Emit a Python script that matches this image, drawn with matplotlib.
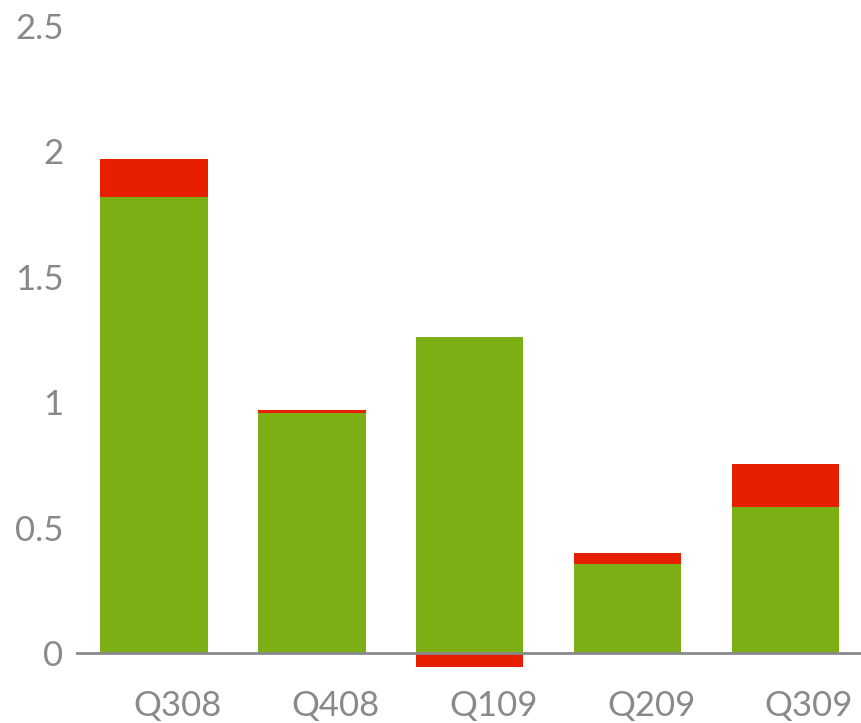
import matplotlib
matplotlib.use("Agg")
import matplotlib.pyplot as plt
import matplotlib.transforms as mtransforms
import numpy as np

quarters = ["Q308", "Q408", "Q109", "Q209", "Q309"]
green_vals = [1.819, 0.958, 1.261, 0.357, 0.584]
red_vals = [0.151, 0.012, -0.054, 0.043, 0.171]
yticks = [0, 0.5, 1, 1.5, 2, 2.5]
ytick_labels = ["0", "0.5", "1", "1.5", "2", "2.5"]

GREEN = "#7BAF14"
RED = "#E81E00"
GREY = "#898989"

plt.rcParams["font.family"] = ["Lato", "DejaVu Sans"]

fig = plt.figure(figsize=(8.61, 7.23), dpi=100)
ax = fig.add_axes([76 / 861, 43 / 723, 785 / 861, 654 / 723])

x = np.arange(len(quarters))
green = np.array(green_vals)
red = np.array(red_vals)
red_bottom = np.where(red > 0, green, 0)

ax.bar(x, green, width=0.68, color=GREEN, zorder=2)
ax.bar(x, red, bottom=red_bottom, width=0.68, color=RED, zorder=2)
ax.axhline(0, color=GREY, linewidth=2, zorder=3)

ax.set_xlim(-0.494, 4.478)
ax.set_ylim(-0.107, 2.5)

for s in ax.spines.values():
    s.set_visible(False)

ax.set_yticks(yticks)
ax.set_yticklabels(ytick_labels)
ax.set_xticks(x)
ax.set_xticklabels(quarters)
ax.tick_params(axis="y", length=0, pad=9, labelsize=25, labelcolor=GREY)
ax.tick_params(axis="x", length=0, pad=7, labelsize=25, labelcolor=GREY)

# x labels sit a bit right of the bar centres
offset = mtransforms.ScaledTranslation(0.235, 0, fig.dpi_scale_trans)
for lbl in ax.get_xticklabels():
    lbl.set_transform(lbl.get_transform() + offset)

fig.savefig("out.png", dpi=100)
